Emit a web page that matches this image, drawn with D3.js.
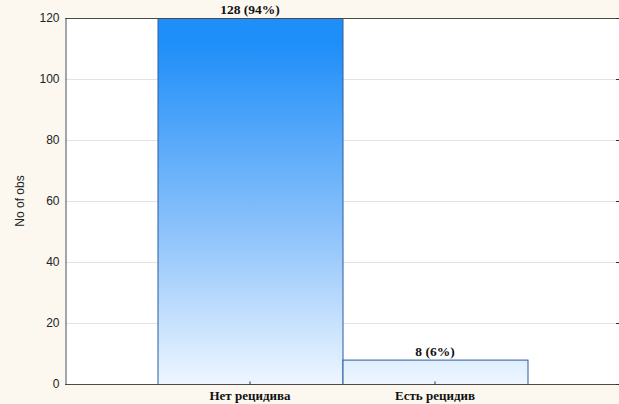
<!DOCTYPE html>
<html>
<head>
<meta charset="utf-8">
<script src="https://cdn.jsdelivr.net/npm/d3@7/dist/d3.min.js"></script>
<style>
  html, body { margin: 0; padding: 0; background: #fcf8f0; }
  svg { display: block; }
</style>
</head>
<body>
<script>
// Recurrence outcome counts
const categories = ["Нет рецидива", "Есть рецидив"];
const counts = [128, 8];
const percents = [94, 6];
const yTicks = [0, 20, 40, 60, 80, 100, 120];
const yTitle = "No of obs";

const W = 619, H = 404;
const plotLeft = 65, plotRight = 620, plotTop = 18, plotBottom = 384;

const svg = d3.select("body").append("svg")
  .attr("width", W).attr("height", H);

svg.append("rect").attr("width", W).attr("height", H).attr("fill", "#fcf8f0");

const x = d3.scaleBand().domain(categories).range([plotLeft, plotRight])
  .paddingInner(0).paddingOuter(0.5);
const y = d3.scaleLinear().domain([0, 120]).range([plotBottom, plotTop]);

// plot area
svg.append("rect").attr("x", plotLeft).attr("y", plotTop)
  .attr("width", plotRight - plotLeft).attr("height", plotBottom - plotTop).attr("fill", "#ffffff");

const defs = svg.append("defs");
const grad = defs.append("linearGradient").attr("id", "barFill")
  .attr("gradientUnits", "userSpaceOnUse")
  .attr("x1", 0).attr("x2", 0).attr("y1", y(112)).attr("y2", y(0));
grad.append("stop").attr("offset", "0%").attr("stop-color", "#1e8ef8");
grad.append("stop").attr("offset", "55%").attr("stop-color", "#8cc2fb");
grad.append("stop").attr("offset", "100%").attr("stop-color", "#eef6ff");

defs.append("clipPath").attr("id", "plotClip").append("rect")
  .attr("x", plotLeft).attr("y", plotTop)
  .attr("width", plotRight - plotLeft).attr("height", plotBottom - plotTop);

// horizontal grid
svg.append("g").selectAll("line").data(yTicks.filter(d => d > 0 && d < 120)).join("line")
  .attr("x1", plotLeft).attr("x2", plotRight)
  .attr("y1", d => Math.round(y(d)) + 0.5).attr("y2", d => Math.round(y(d)) + 0.5)
  .attr("stroke", "#e2e2e2").attr("stroke-width", 1);

// bars
const data = categories.map((c, i) => ({ c, n: counts[i], p: percents[i] }));
svg.append("g").attr("clip-path", "url(#plotClip)")
  .selectAll("rect").data(data).join("rect")
  .attr("x", d => x(d.c) + 0.5)
  .attr("y", d => y(d.n) + 0.5)
  .attr("width", x.bandwidth())
  .attr("height", d => plotBottom - y(d.n))
  .attr("fill", "url(#barFill)")
  .attr("stroke", "#2b5d9e").attr("stroke-width", 1);

// bar value labels
svg.append("g").selectAll("text").data(data).join("text")
  .attr("x", d => x(d.c) + x.bandwidth() / 2)
  .attr("y", d => Math.max(y(d.n), plotTop) - 4)
  .attr("text-anchor", "middle")
  .attr("font-family", "'Liberation Serif', 'Times New Roman', serif")
  .attr("font-weight", "bold").attr("font-size", 13.5).attr("fill", "#111")
  .text(d => `${d.n} (${d.p}%)`);

// frame lines
const frame = svg.append("g").attr("stroke", "#4a4a4a").attr("stroke-width", 1);
frame.append("line").attr("x1", plotLeft).attr("x2", plotRight)
  .attr("y1", plotTop + 0.5).attr("y2", plotTop + 0.5);
frame.append("line").attr("x1", plotLeft).attr("x2", plotRight)
  .attr("y1", plotBottom + 0.5).attr("y2", plotBottom + 0.5);

// left axis
const yAxis = svg.append("g").attr("transform", `translate(${plotLeft + 0.5},0)`)
  .call(d3.axisLeft(y).tickValues(yTicks).tickSize(0).tickPadding(6));
yAxis.select(".domain").attr("stroke", "#4a4a4a");
yAxis.selectAll("text").attr("font-family", "'Liberation Sans', Arial, sans-serif")
  .attr("font-size", 12).attr("fill", "#222");

// right side ticks
svg.append("g").attr("transform", `translate(${W},0)`)
  .call(d3.axisRight(y).tickValues(yTicks).tickSize(-3).tickFormat(""))
  .call(g => g.select(".domain").remove())
  .selectAll("line").attr("stroke", "#333");

// x axis
const xAxis = svg.append("g").attr("transform", `translate(0,${plotBottom + 0.5})`)
  .call(d3.axisBottom(x).tickSize(-3));
xAxis.select(".domain").remove();
xAxis.selectAll("line").attr("stroke", "#333");
xAxis.selectAll("text")
  .attr("font-family", "'Liberation Serif', 'Times New Roman', serif")
  .attr("font-weight", "bold").attr("font-size", 13).attr("fill", "#111")
  .attr("y", 15).attr("dy", 0);

// y title
svg.append("text")
  .attr("transform", `translate(24,${(plotTop + plotBottom) / 2}) rotate(-90)`)
  .attr("text-anchor", "middle")
  .attr("font-family", "'Liberation Sans', Arial, sans-serif")
  .attr("font-size", 12).attr("fill", "#222")
  .text(yTitle);
</script>
</body>
</html>
